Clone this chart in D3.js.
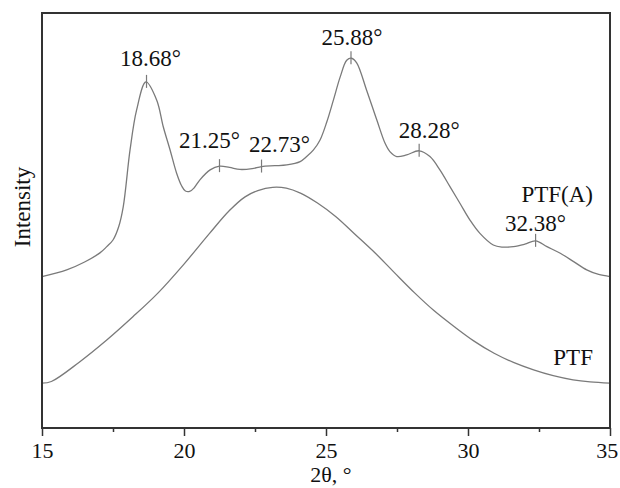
<!DOCTYPE html>
<html>
<head>
<meta charset="utf-8">
<script src="https://cdn.jsdelivr.net/npm/d3@7"></script>
<style>
  body { margin: 0; background: #fff; }
  svg text { font-family: "Liberation Serif", "DejaVu Serif", serif; fill: #111; }
</style>
</head>
<body>
<div id="chart"></div>
<script>
// 2theta (deg) values, intensity in arbitrary units (0-100)
const ptfaTheta = [15.0, 15.87, 16.5, 17.04, 17.28, 17.5, 17.7, 17.86, 18.1, 18.33, 18.66, 19.04, 19.27, 19.51, 19.74, 19.92, 20.05,
  20.2, 20.36, 20.56, 20.92, 21.25, 21.6, 21.97, 22.4, 22.73, 23.2, 23.62, 24.09, 24.32, 24.56, 24.79, 25.03, 25.26, 25.5, 25.73, 25.9,
  26.08, 26.43, 26.79, 27.08, 27.25, 27.49, 27.84, 28.28, 28.66, 29.01, 29.37, 29.72, 30.07, 30.42, 30.89, 31.2, 31.6,
  32.0, 32.38, 32.78, 33.25, 33.72, 34.18, 34.6, 35.0];
const ptfaIntensity = [36.5, 38.1, 40.0, 42.2, 43.7, 45.3, 48.5, 53.3, 67.0, 76.6, 83.4, 79.0, 72.6, 67.0, 61.4, 58.3, 57.1,
  57.0, 57.9, 59.8, 62.2, 63.1, 62.8, 62.3, 62.5, 63.0, 63.2, 63.4, 64.2, 65.4, 67.0, 69.4, 73.8, 79.0, 84.6, 88.6, 89.1,
  88.0, 81.4, 74.2, 68.6, 66.6, 65.4, 65.8, 66.8, 65.4, 62.2, 58.1, 54.1, 50.1, 46.9, 44.1, 43.6, 43.7,
  44.3, 45.1, 43.7, 42.1, 40.1, 38.1, 37.0, 36.5];

const ptfTheta = [15.0, 15.33, 16.3, 17.28, 18.2, 19.08, 20.0, 20.9, 21.6, 22.15, 22.6, 23.12, 23.6, 24.1, 24.7, 25.35,
  26.0, 26.74, 27.4, 28.13, 28.8, 29.52, 30.2, 30.92, 31.6, 32.31, 33.0, 33.7, 34.3, 35.0];
const ptfIntensity = [10.8, 11.2, 15.8, 21.2, 26.8, 32.5, 39.5, 46.9, 52.4, 55.7, 57.2, 58.0, 57.8, 56.6, 54.2, 50.9,
  46.8, 42.1, 37.5, 32.5, 28.3, 24.4, 21.0, 18.0, 15.8, 14.0, 12.6, 11.6, 11.1, 10.8];

const peakTheta = [18.68, 21.25, 22.73, 25.88, 28.28, 32.38];
const peakIntensity = [83.4, 63.1, 63.0, 89.1, 66.8, 45.1];
const peakLabels = ["18.68°", "21.25°", "22.73°", "25.88°", "28.28°", "32.38°"];

const xTicks = [15, 20, 25, 30, 35];
const xMinorTicks = [17.5, 22.5, 27.5, 32.5];

// label placement (px offsets from the peak mark)
const labelNudge = {
  "18.68°": [4, -16], "21.25°": [-10, -18], "22.73°": [18, -15],
  "25.88°": [1, -13], "28.28°": [10, -13], "32.38°": [0, -10]
};

const margin = {top: 13, right: 10, bottom: 60, left: 42},
      width = 620 - margin.left - margin.right,
      height = 488 - margin.top - margin.bottom;

const serif = '"Liberation Serif", "DejaVu Serif", serif';

let svg = d3.select("#chart")
  .append("svg")
  .attr("width", 620)
  .attr("height", 488)
  .append("g")
  .attr("transform", `translate(${margin.left},${margin.top})`);

let x = d3.scaleLinear().domain([15, 35]).range([0, width]);
let y = d3.scaleLinear().domain([0, 100]).range([height, 0]);

const line = d3.line()
  .x(d => x(d[0]))
  .y(d => y(d[1]))
  .curve(d3.curveCatmullRom.alpha(0.5));

const ptfa = ptfaTheta.map((t, i) => [t, ptfaIntensity[i]]);
const ptf = ptfTheta.map((t, i) => [t, ptfIntensity[i]]);

[ptfa, ptf].forEach(series => {
  svg.append("path")
    .datum(series)
    .attr("fill", "none")
    .attr("stroke", "#7a7a7a")
    .attr("stroke-width", 1.3)
    .attr("d", line);
});

// peak marks
svg.selectAll(".peak")
  .data(peakTheta)
  .enter().append("line")
  .attr("x1", d => x(d))
  .attr("x2", d => x(d))
  .attr("y1", (d, i) => y(peakIntensity[i]) - 7)
  .attr("y2", (d, i) => y(peakIntensity[i]) + 6)
  .attr("stroke", "#7a7a7a")
  .attr("stroke-width", 1.2);

svg.selectAll(".peakLabel")
  .data(peakLabels)
  .enter().append("text")
  .attr("x", (d, i) => x(peakTheta[i]) + labelNudge[d][0])
  .attr("y", (d, i) => y(peakIntensity[i]) + labelNudge[d][1])
  .attr("text-anchor", "middle")
  .style("font-family", serif)
  .style("font-size", "23px")
  .text(d => d);

// series names
svg.append("text")
  .attr("x", x(34.4))
  .attr("y", y(ptfaIntensity[ptfaIntensity.length - 1]) - 75)
  .attr("text-anchor", "end")
  .style("font-family", serif)
  .style("font-size", "23px")
  .text("PTF(A)");

svg.append("text")
  .attr("x", x(34.4))
  .attr("y", y(ptfIntensity[ptfIntensity.length - 1]) - 18)
  .attr("text-anchor", "end")
  .style("font-family", serif)
  .style("font-size", "23px")
  .text("PTF");

// x axis
let xAxis = svg.append("g")
  .attr("transform", `translate(0,${height})`)
  .call(d3.axisBottom(x).tickValues(xTicks).tickSize(8).tickPadding(6).tickFormat(d3.format("d")));
xAxis.select(".domain").remove();
xAxis.selectAll("line").attr("stroke", "#333").attr("stroke-width", 1.5);
xAxis.selectAll("text")
  .style("font-size", "22px")
  .style("font-family", serif)
  .attr("fill", "#111");
// keep the last tick label inside the window
xAxis.selectAll("text").filter(d => d === 35).attr("dx", "-0.15em");

let xMinor = svg.append("g")
  .attr("transform", `translate(0,${height})`)
  .call(d3.axisBottom(x).tickValues(xMinorTicks).tickSize(4).tickFormat(""));
xMinor.select(".domain").remove();
xMinor.selectAll("line").attr("stroke", "#333").attr("stroke-width", 1.5);

// frame
svg.append("rect")
  .attr("x", 0)
  .attr("y", 0)
  .attr("width", width)
  .attr("height", height)
  .attr("fill", "none")
  .attr("stroke", "#333")
  .attr("stroke-width", 2);

svg.append("text")
  .attr("x", width / 2 + 5)
  .attr("y", height + 54)
  .attr("text-anchor", "middle")
  .style("font-family", serif)
  .style("font-size", "22px")
  .text("2θ, °");

svg.append("text")
  .attr("transform", "rotate(-90)")
  .attr("x", -(194))
  .attr("y", -20)
  .attr("dy", "0.35em")
  .attr("text-anchor", "middle")
  .style("font-family", serif)
  .style("font-size", "23px")
  .text("Intensity");
</script>
</body>
</html>
